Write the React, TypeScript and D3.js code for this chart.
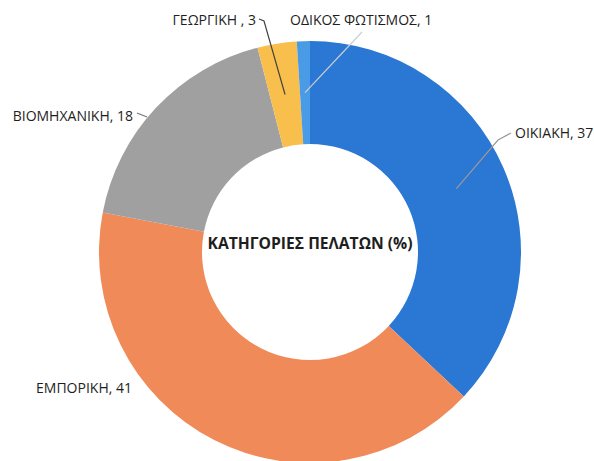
import React from 'react';
import * as d3 from 'd3';

// customer categories (%)
const categories = ['ΟΙΚΙΑΚΗ', 'ΕΜΠΟΡΙΚΗ', 'ΒΙΟΜΗΧΑΝΙΚΗ', 'ΓΕΩΡΓΙΚΗ ', 'ΟΔΙΚΟΣ ΦΩΤΙΣΜΟΣ'];
const values = [37, 41, 18, 3, 1];
const colors = ['#2a77d4', '#f08a58', '#a0a0a0', '#f9bf4c', '#4a9be6'];
const title = 'ΚΑΤΗΓΟΡΙΕΣ ΠΕΛΑΤΩΝ (%)';

const width = 594, height = 461;
const cx = 310, cy = 252;
const outerR = 211, innerR = 108;

// where the data labels were dragged to, relative to the centre
var labelLayout = [
  { x: 205, y: -114, anchor: 'start', leader: [[201, -119], [188, -112]], stroke: '#9a9a9a' },
  { x: -178, y: 141, anchor: 'end', leader: null, stroke: '#999' },
  { x: -177, y: -131, anchor: 'end', leader: [[-173, -139], [-163, -135]], stroke: '#777', short: true },
  { x: -54, y: -227, anchor: 'end', leader: [[-51, -233], [-46, -231]], stroke: '#444' },
  { x: -20, y: -227, anchor: 'start', leader: [[52, -220]], stroke: '#cfcfcf' },
];

export default function App() {
  const pie = d3.pie<number>().sort(null).startAngle(0).endAngle(2 * Math.PI);
  const arcs = pie(values);
  const arc = d3.arc<d3.PieArcDatum<number>>().innerRadius(innerR).outerRadius(outerR);
  const line = d3.line();

  return (
    <svg width={width} height={height} style={{ position: 'absolute', left: 0, top: 0, background: '#fff' }}
      fontFamily="'Open Sans', 'Noto Sans', sans-serif">
      <g transform={`translate(${cx},${cy})`}>
        {arcs.map((a, i) => (
          <path key={i} d={arc(a) || ''} fill={colors[i]} />
        ))}
        {arcs.map((a, i) => {
          const l = labelLayout[i];
          if (!l.leader) return null;
          const c = arc.centroid(a);
          const pts: [number, number][] = l.short ? (l.leader as [number, number][]) : [...(l.leader as [number, number][]), c];
          return <path key={'l' + i} d={line(pts) || ''} fill="none" stroke={l.stroke} strokeWidth={1.2} />;
        })}
        {arcs.map((a, i) => {
          const l = labelLayout[i];
          return (
            <text key={'t' + i} x={l.x} y={l.y} textAnchor={l.anchor} fontSize={14} fill="#1e1e1e">
              {categories[i] + ', ' + values[i]}
            </text>
          );
        })}
        <text x={0} y={-3} textAnchor="middle" fontWeight="bold" fontSize={16.5} fill="#1e1e1e"
          textLength={205} lengthAdjust="spacingAndGlyphs">{title}</text>
      </g>
    </svg>
  );
}
